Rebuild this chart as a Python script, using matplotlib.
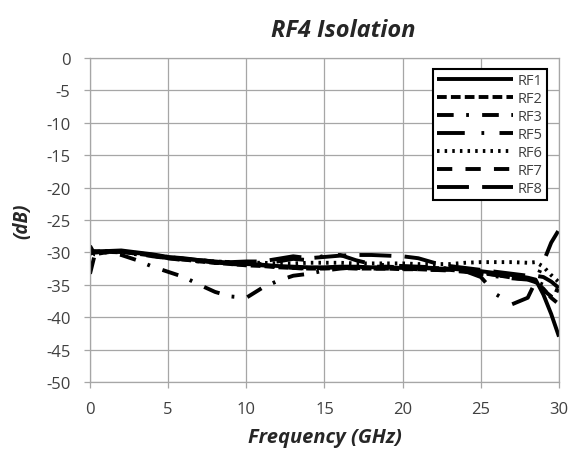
import matplotlib
matplotlib.use("Agg")
import matplotlib.pyplot as plt

plt.rcParams['axes.unicode_minus'] = False
plt.rcParams['lines.scale_dashes'] = False
plt.rcParams['font.family'] = ['Open Sans', 'DejaVu Sans']

freq = [0, 0.3, 1, 2, 3, 4, 5, 6, 7, 8, 9, 10, 11, 12, 13, 14, 15, 16, 17, 18, 19,
        20, 21, 22, 23, 24, 25, 26, 27, 28, 28.5, 29, 29.5, 30]

rf1 = [-30.0, -29.9, -29.8, -29.7, -30.0, -30.3, -30.7, -30.9, -31.2, -31.4, -31.6, -31.8,
       -31.9, -32.1, -32.2, -32.3, -32.3, -32.2, -32.2, -32.3, -32.3, -32.4, -32.4, -32.5,
       -32.5, -32.7, -32.9, -33.2, -33.5, -33.9, -34.2, -36.5, -39.5, -43.0]
rf2 = [-29.0, -30.3, -30.0, -29.9, -30.2, -30.5, -30.9, -31.1, -31.4, -31.6, -31.8, -32.0,
       -32.1, -32.3, -32.4, -32.5, -32.5, -32.4, -32.5, -32.5, -32.5, -32.6, -32.6, -32.7,
       -32.7, -32.9, -33.1, -33.5, -33.9, -34.2, -34.6, -35.6, -37.0, -38.0]
rf3 = [-33.3, -30.4, -30.0, -30.4, -31.2, -32.2, -33.0, -33.8, -35.0, -36.1, -36.8, -37.0,
       -35.5, -34.4, -33.6, -33.3, -32.8, -32.5, -32.3, -32.2, -32.2, -32.3, -32.3, -32.4,
       -32.5, -32.8, -33.3, -33.7, -34.0, -34.2, -34.5, -35.0, -35.5, -36.0]
rf5 = [-30.0, -29.8, -29.9, -30.0, -30.3, -30.5, -30.9, -31.2, -31.4, -31.6, -31.7, -31.8,
       -31.8, -31.4, -31.0, -31.2, -30.5, -30.4, -31.2, -31.8, -32.0, -32.1, -32.2, -32.3,
       -32.5, -32.9, -33.8, -36.5, -38.0, -37.0, -34.5, -31.5, -28.5, -26.5]
rf6 = [-30.0, -29.9, -29.8, -29.8, -30.1, -30.4, -30.7, -31.0, -31.2, -31.4, -31.5, -31.6,
       -31.6, -31.7, -31.7, -31.6, -31.6, -31.6, -31.7, -31.7, -31.7, -31.7, -31.8, -31.8,
       -31.8, -31.6, -31.5, -31.5, -31.5, -31.6, -31.5, -32.2, -33.5, -34.6]
rf7 = [-30.2, -30.0, -29.9, -29.9, -30.2, -30.6, -30.9, -31.1, -31.3, -31.6, -31.8, -31.9,
       -32.0, -32.2, -32.4, -32.5, -32.4, -32.3, -32.4, -32.5, -32.5, -32.5, -32.6, -32.7,
       -32.8, -33.0, -33.2, -33.5, -33.8, -34.0, -34.4, -35.8, -36.8, -37.5]
rf8 = [-30.1, -30.0, -29.9, -29.8, -30.1, -30.4, -30.8, -31.0, -31.2, -31.4, -31.5, -31.4,
       -31.4, -31.0, -30.6, -30.9, -30.7, -30.5, -30.4, -30.4, -30.5, -30.6, -30.9, -31.6,
       -32.1, -32.4, -32.7, -33.0, -33.3, -33.6, -33.6, -33.8, -34.5, -35.5]

labels = ['RF1', 'RF2', 'RF3', 'RF5', 'RF6', 'RF7', 'RF8']
series = [rf1, rf2, rf3, rf5, rf6, rf7, rf8]
styles = ['-', (0, (7, 3)), (0, (12, 9, 2, 9.5)), (0, (20, 12, 2, 11)),
          (0, (1.8, 3.7)), (0, (11, 9.5)), (0, (23, 9.5))]

xticks = [0, 5, 10, 15, 20, 25, 30]
yticks = [0, -5, -10, -15, -20, -25, -30, -35, -40, -45, -50]

fig = plt.figure(figsize=(5.74, 4.60), dpi=100)
ax = fig.add_axes([90/574, 1 - 383/460, 469/574, 324/460])

for y, lab, ls in zip(series, labels, styles):
    ax.plot(freq, y, color='black', lw=2.8, linestyle=ls, label=lab,
            dash_capstyle='butt', solid_capstyle='butt')

ax.set_xlim(0, 30)
ax.set_ylim(-50, 0)
ax.set_xticks(xticks)
ax.set_yticks(yticks)
ax.set_xticklabels([str(v) for v in xticks])
ax.set_yticklabels([str(v) for v in yticks])
ax.grid(True, color='#a6a6a6', lw=0.9)
ax.set_axisbelow(True)
for sp in ax.spines.values():
    sp.set_color('#a6a6a6')
    sp.set_linewidth(0.9)
ax.tick_params(direction='out', length=4, width=0.9, color='#a6a6a6',
               labelsize=12, labelcolor='#404040', pad=10)

ax.set_title('RF4 Isolation', fontsize=17, fontweight='bold', style='italic',
             color='#262626', pad=16, x=0.54)
ax.set_xlabel('Frequency (GHz)', fontsize=14.5, fontweight='bold', style='italic',
              color='#262626', labelpad=7)
ax.set_ylabel('(dB)', fontsize=13.5, fontweight='bold', style='italic',
              color='#262626', labelpad=10)

leg = ax.legend(loc='upper right', bbox_to_anchor=(0.974, 0.966), fontsize=10.5,
                handlelength=5.2, labelspacing=0.2, handletextpad=0.3,
                borderpad=0.3, borderaxespad=0, fancybox=False, framealpha=1)
leg.get_frame().set_edgecolor('black')
leg.get_frame().set_linewidth(1.5)
for t in leg.get_texts():
    t.set_color('#404040')

fig.savefig('out.png', dpi=100)
